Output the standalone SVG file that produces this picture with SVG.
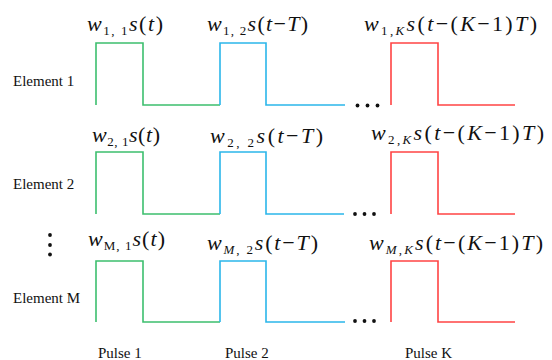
<svg xmlns="http://www.w3.org/2000/svg" width="552" height="360" viewBox="0 0 552 360">
<style>
.lbl{font-size:15px;fill:#111}
.m{font-size:22px;fill:#111}
.i{font-style:italic}
.sub{font-size:13px}
.g{fill:none;stroke:#3cbf6e;stroke-width:1.6}
.b{fill:none;stroke:#2bb6ea;stroke-width:1.6}
.r{fill:none;stroke:#ff4444;stroke-width:1.6}
.dot{fill:#111}
</style>
<rect width="552" height="360" fill="#fff"/>
<g font-family="Liberation Serif, serif">
<g id="element-1">
<text class="lbl" x="13" y="86">Element 1</text>
<path class="g" d="M96,105V43H143V105H220"/>
<path class="b" d="M220,105V43H266V105H345"/>
<circle class="dot" cx="357.5" cy="105.5" r="1.9"/><circle class="dot" cx="367.5" cy="105.5" r="1.9"/><circle class="dot" cx="377.5" cy="105.5" r="1.9"/>
<path class="r" d="M391,105V43H438V105H515"/>
<text class="m" x="87" y="31" textLength="76" lengthAdjust="spacing"><tspan class="i">w</tspan><tspan class="sub" dy="4">1, 1</tspan><tspan dy="-4" class="i">s</tspan>(<tspan class="i">t</tspan>)</text>
<text class="m" x="207" y="31" textLength="101" lengthAdjust="spacing"><tspan class="i">w</tspan><tspan class="sub" dy="4">1, 2</tspan><tspan dy="-4" class="i">s</tspan>(<tspan class="i">t</tspan>−<tspan class="i">T</tspan>)</text>
<text class="m" x="364" y="31" textLength="173" lengthAdjust="spacing"><tspan class="i">w</tspan><tspan class="sub" dy="4">1,<tspan class="i">K</tspan></tspan><tspan dy="-4" class="i">s</tspan>(<tspan class="i">t</tspan>−(<tspan class="i">K</tspan>−1)<tspan class="i">T</tspan>)</text>
</g>
<g id="element-2">
<text class="lbl" x="13" y="189">Element 2</text>
<path class="g" d="M96,214V152H143V214H220"/>
<path class="b" d="M220,214V152H266V214H344"/>
<circle class="dot" cx="355" cy="214" r="1.9"/><circle class="dot" cx="364.5" cy="214" r="1.9"/><circle class="dot" cx="374" cy="214" r="1.9"/>
<path class="r" d="M391,214V152H438V214H515"/>
<text class="m" x="92" y="142" textLength="68" lengthAdjust="spacing"><tspan class="i">w</tspan><tspan class="sub" dy="4">2, 1</tspan><tspan dy="-4" class="i">s</tspan>(<tspan class="i">t</tspan>)</text>
<text class="m" x="210" y="143" textLength="113" lengthAdjust="spacing"><tspan class="i">w</tspan><tspan class="sub" dy="4">2, 2</tspan><tspan dy="-4" class="i">s</tspan>(<tspan class="i">t</tspan>−<tspan class="i">T</tspan>)</text>
<text class="m" x="371" y="140" textLength="173" lengthAdjust="spacing"><tspan class="i">w</tspan><tspan class="sub" dy="4">2,<tspan class="i">K</tspan></tspan><tspan dy="-4" class="i">s</tspan>(<tspan class="i">t</tspan>−(<tspan class="i">K</tspan>−1)<tspan class="i">T</tspan>)</text>
</g>
<g id="vertical-ellipsis">
<circle class="dot" cx="50" cy="235" r="1.9"/><circle class="dot" cx="50" cy="245" r="1.9"/><circle class="dot" cx="50" cy="254.5" r="1.9"/>
</g>
<g id="element-M">
<text class="lbl" x="13" y="303">Element M</text>
<path class="g" d="M96,322V261H143V322H220"/>
<path class="b" d="M220,322V261H266V322H345"/>
<circle class="dot" cx="355" cy="321" r="1.9"/><circle class="dot" cx="364.5" cy="321" r="1.9"/><circle class="dot" cx="374" cy="321" r="1.9"/>
<path class="r" d="M391,322V261H438V322H515"/>
<text class="m" x="88" y="246" textLength="77" lengthAdjust="spacing"><tspan class="i">w</tspan><tspan class="sub" dy="4">M, 1</tspan><tspan dy="-4" class="i">s</tspan>(<tspan class="i">t</tspan>)</text>
<text class="m" x="207" y="250" textLength="111" lengthAdjust="spacing"><tspan class="i">w</tspan><tspan class="sub" dy="4"><tspan class="i">M</tspan>, 2</tspan><tspan dy="-4" class="i">s</tspan>(<tspan class="i">t</tspan>−<tspan class="i">T</tspan>)</text>
<text class="m" x="369" y="250" textLength="174" lengthAdjust="spacing"><tspan class="i">w</tspan><tspan class="sub" dy="4"><tspan class="i">M</tspan>,<tspan class="i">K</tspan></tspan><tspan dy="-4" class="i">s</tspan>(<tspan class="i">t</tspan>−(<tspan class="i">K</tspan>−1)<tspan class="i">T</tspan>)</text>
</g>
<g id="pulse-labels">
<text class="lbl" x="98" y="358">Pulse 1</text>
<text class="lbl" x="225" y="358">Pulse 2</text>
<text class="lbl" x="405" y="358">Pulse K</text>
</g>
</g>
</svg>
